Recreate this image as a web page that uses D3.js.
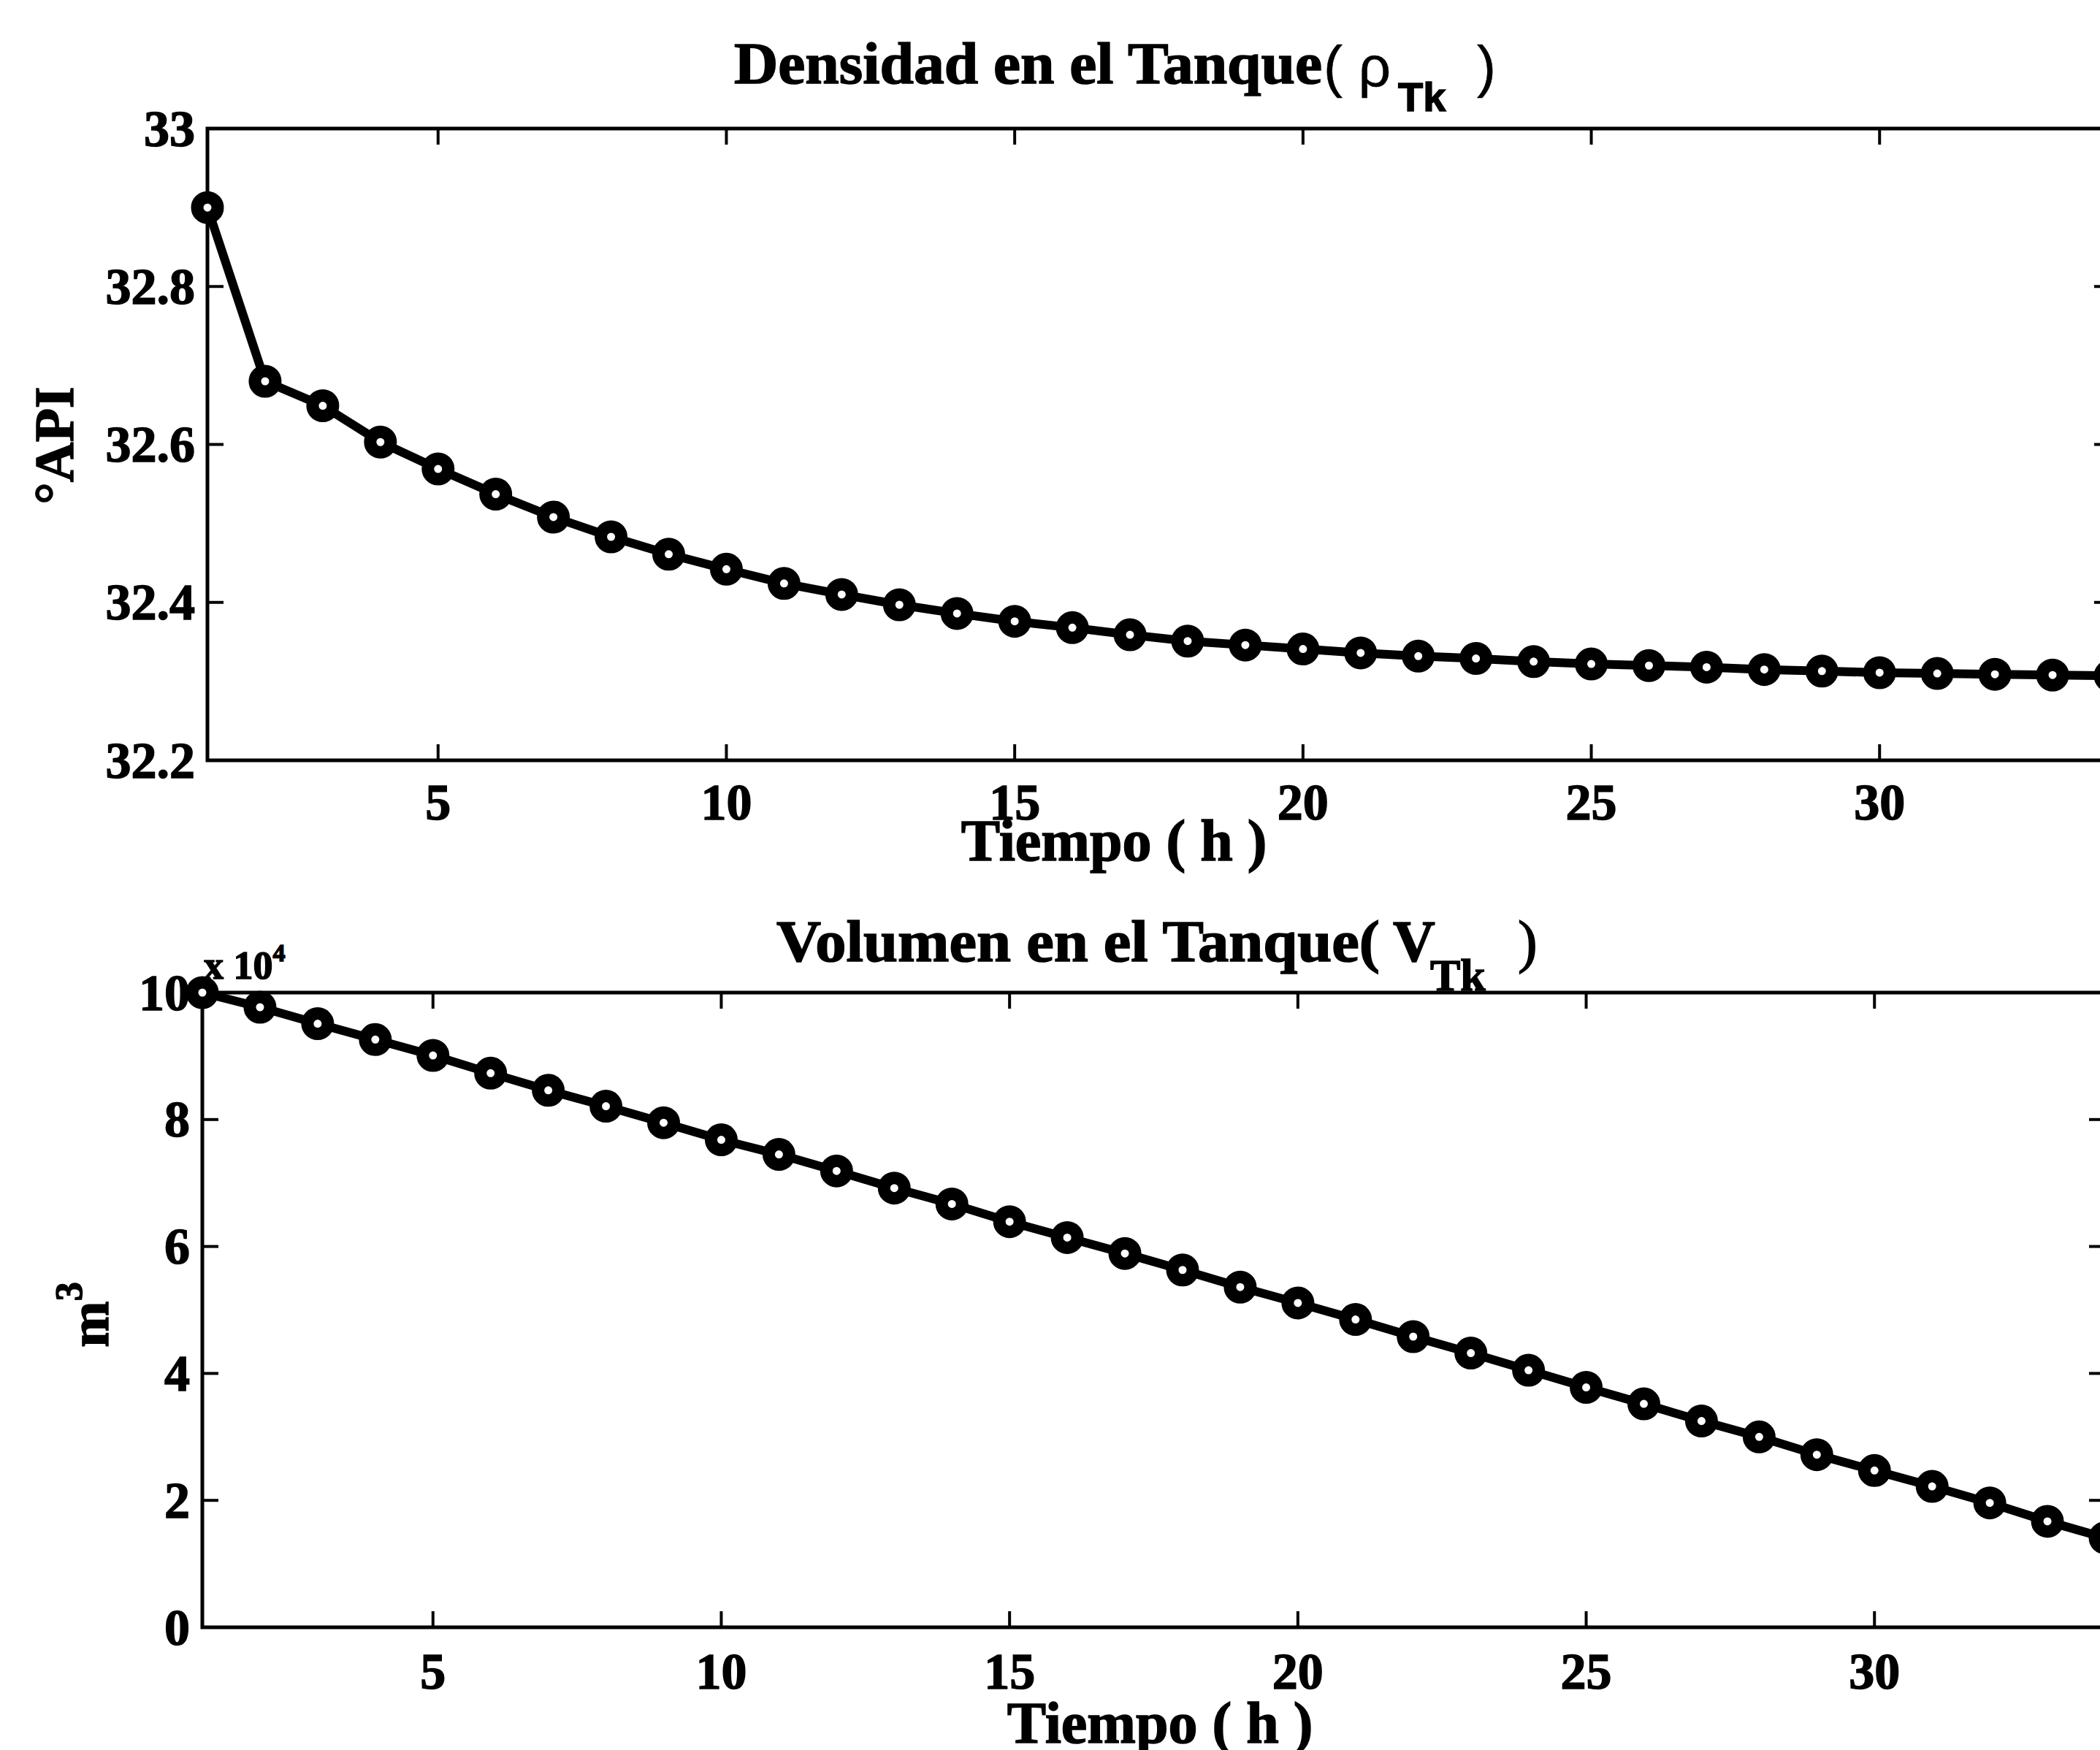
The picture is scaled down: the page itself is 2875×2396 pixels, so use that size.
<!DOCTYPE html>
<html>
<head>
<meta charset="utf-8">
<script src="https://cdn.jsdelivr.net/npm/d3@7"></script>
<style>
  body { margin: 0; background: #fff; }
  text { font-family: "Liberation Serif", "DejaVu Serif", serif; font-weight: bold; fill: #000;
         stroke: #000; stroke-width: 1.5px; }
</style>
</head>
<body>
<div id="chart"><svg width="2875" height="2396"></svg></div>
<script>
const svg = d3.select("#chart svg");
const width = parseInt(svg.attr("width"));
const height = parseInt(svg.attr("height"));

// datos
const hours = [1, 2, 3, 4, 5, 6, 7, 8, 9, 10, 11, 12, 13, 14, 15, 16, 17,
               18, 19, 20, 21, 22, 23, 24, 25, 26, 27, 28, 29, 30, 31, 32, 33, 34];
const densityAPI = [32.900, 32.680, 32.649, 32.603, 32.569, 32.537, 32.508, 32.483,
                    32.461, 32.442, 32.424, 32.410, 32.397, 32.386, 32.376, 32.368,
                    32.359, 32.351, 32.346, 32.341, 32.336, 32.332, 32.329, 32.325,
                    32.322, 32.320, 32.318, 32.315, 32.313, 32.311, 32.310, 32.309,
                    32.308, 32.307];
const volumeE4 = [10.00, 9.77, 9.51, 9.26, 9.01, 8.73, 8.46, 8.21, 7.95, 7.68,
                  7.45, 7.19, 6.92, 6.67, 6.39, 6.14, 5.89, 5.63, 5.36, 5.11,
                  4.85, 4.58, 4.32, 4.05, 3.78, 3.52, 3.25, 3.00, 2.72, 2.47,
                  2.22, 1.96, 1.67, 1.41];
const xTicks = [5, 10, 15, 20, 25, 30];
const densityTicks = [32.2, 32.4, 32.6, 32.8, 33];
const volumeTicks = [0, 2, 4, 6, 8, 10];

const tickLen = 22;

function drawPanel(box, yDomain, yTicks, values, xLabelY) {
    const x = d3.scaleLinear().domain([1, 34]).range([box.left, box.right]);
    const y = d3.scaleLinear().domain(yDomain).range([box.bottom, box.top]);
    const g = svg.append("g");

    // marco
    g.append("rect")
        .attr("x", box.left)
        .attr("y", box.top)
        .attr("width", box.right - box.left)
        .attr("height", box.bottom - box.top)
        .attr("fill", "none")
        .attr("stroke", "#000")
        .attr("stroke-width", 5);

    // marcas en x (abajo y arriba)
    for (let i = 0; i < xTicks.length; i++) {
        let px = x(xTicks[i]);
        g.append("line")
            .attr("x1", px).attr("x2", px)
            .attr("y1", box.bottom).attr("y2", box.bottom - tickLen)
            .attr("stroke", "#000").attr("stroke-width", 4);
        g.append("line")
            .attr("x1", px).attr("x2", px)
            .attr("y1", box.top).attr("y2", box.top + tickLen)
            .attr("stroke", "#000").attr("stroke-width", 4);
        g.append("text")
            .attr("x", px)
            .attr("y", xLabelY)
            .attr("text-anchor", "middle")
            .attr("font-size", "70px")
            .text(xTicks[i]);
    }

    // marcas en y (izquierda y derecha)
    for (let i = 0; i < yTicks.length; i++) {
        let py = y(yTicks[i]);
        g.append("line")
            .attr("x1", box.left).attr("x2", box.left + tickLen)
            .attr("y1", py).attr("y2", py)
            .attr("stroke", "#000").attr("stroke-width", 4);
        g.append("line")
            .attr("x1", box.right).attr("x2", box.right - tickLen)
            .attr("y1", py).attr("y2", py)
            .attr("stroke", "#000").attr("stroke-width", 4);
        g.append("text")
            .attr("x", box.left - 17)
            .attr("y", py)
            .attr("text-anchor", "end")
            .attr("dominant-baseline", "central")
            .attr("font-size", "70px")
            .text(yTicks[i]);
    }

    // curva
    const line = d3.line()
        .x((d, i) => x(hours[i]))
        .y(d => y(d));
    g.append("path")
        .datum(values)
        .attr("d", line)
        .attr("fill", "none")
        .attr("stroke", "#000")
        .attr("stroke-width", 12)
        .attr("stroke-linejoin", "round");

    g.selectAll(".pt")
        .data(values)
        .enter()
        .append("circle")
        .attr("class", "pt")
        .attr("cx", (d, i) => x(hours[i]))
        .attr("cy", d => y(d))
        .attr("r", 14)
        .attr("fill", "#fff")
        .attr("stroke", "#000")
        .attr("stroke-width", 17);
}

// panel superior: densidad
drawPanel({left: 284, right: 2889, top: 176, bottom: 1041},
          [32.2, 33], densityTicks, densityAPI, 1122);

// panel inferior: volumen
drawPanel({left: 277, right: 2882, top: 1359, bottom: 2228},
          [0, 10], volumeTicks, volumeE4, 2312);

// títulos
svg.append("text")
    .attr("x", 1005).attr("y", 114)
    .attr("font-size", "80px")
    .attr("textLength", 805)
    .attr("lengthAdjust", "spacingAndGlyphs")
    .text("Densidad en el Tanque");
svg.append("text")
    .attr("x", 1812).attr("y", 118)
    .attr("font-size", "78px")
    .style("font-family", "'Liberation Sans', Arial, sans-serif")
    .style("font-weight", "normal")
    .style("stroke-width", "0.5px")
    .text("( ρ");
svg.append("text")
    .attr("x", 1914).attr("y", 152)
    .attr("font-size", "56px")
    .style("font-family", "'Liberation Sans', Arial, sans-serif")
    .text("Tk");
svg.append("text")
    .attr("x", 2022).attr("y", 118)
    .attr("font-size", "78px")
    .style("font-family", "'Liberation Sans', Arial, sans-serif")
    .style("font-weight", "normal")
    .style("stroke-width", "0.5px")
    .text(")");

svg.append("text")
    .attr("x", 1063).attr("y", 1316)
    .attr("font-size", "80px")
    .attr("textLength", 826)
    .attr("lengthAdjust", "spacingAndGlyphs")
    .text("Volumen en el Tanque(");
svg.append("text")
    .attr("x", 1907).attr("y", 1316)
    .attr("font-size", "80px")
    .text("V");
svg.append("text")
    .attr("x", 1958).attr("y", 1356)
    .attr("font-size", "62px")
    .text("Tk");
svg.append("text")
    .attr("x", 2078).attr("y", 1316)
    .attr("font-size", "80px")
    .style("font-weight", "normal")
    .text(")");

// títulos de ejes
svg.append("text")
    .attr("x", 1525).attr("y", 1178)
    .attr("text-anchor", "middle")
    .attr("font-size", "80px")
    .text("Tiempo ( h )");
svg.append("text")
    .attr("x", 1588).attr("y", 2386)
    .attr("text-anchor", "middle")
    .attr("font-size", "80px")
    .text("Tiempo ( h )");

svg.append("text")
    .attr("transform", "translate(100,610) rotate(-90)")
    .attr("text-anchor", "middle")
    .attr("font-size", "76px")
    .text("°API");

const m3 = svg.append("text")
    .attr("transform", "translate(148,1800) rotate(-90)")
    .attr("text-anchor", "middle")
    .attr("font-size", "76px");
m3.append("tspan").text("m");
m3.append("tspan").attr("dy", -36).attr("font-size", "52px").text("3");

// multiplicador
const mult = svg.append("text")
    .attr("x", 279).attr("y", 1340)
    .attr("font-size", "54px");
mult.append("tspan").text("x 10");
mult.append("tspan").attr("dy", -24).attr("font-size", "34px").text("4");
</script>
</body>
</html>
